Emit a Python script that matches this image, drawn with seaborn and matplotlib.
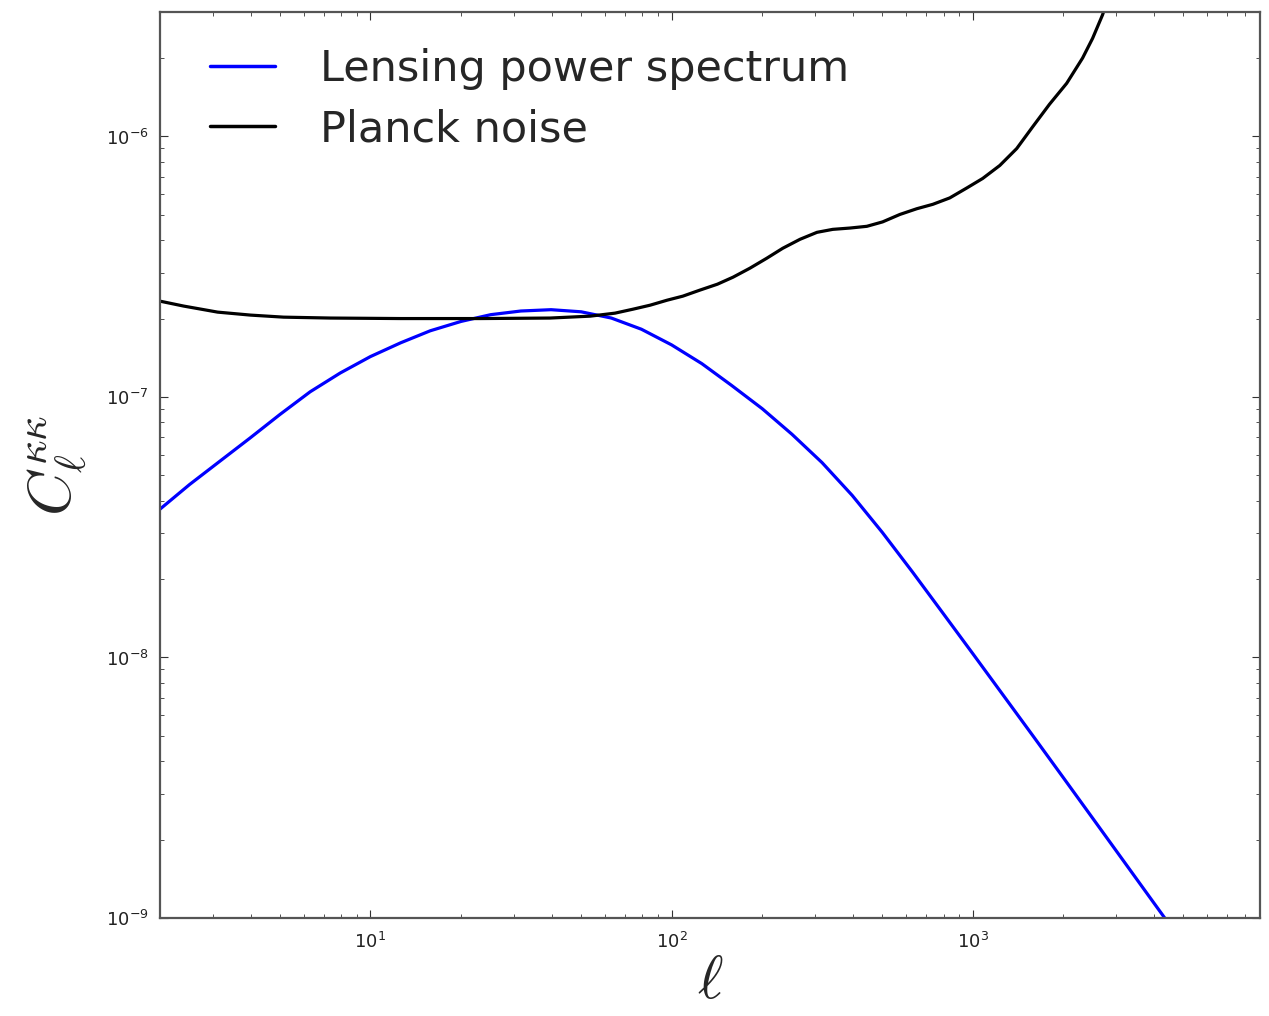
import numpy as np
import pandas as pd
import matplotlib
matplotlib.use("Agg")
import matplotlib.pyplot as plt
from matplotlib.ticker import NullFormatter
import seaborn as sns

# Lensing convergence power spectrum C_ell^{kappa kappa}
lens_ell = [2.0, 2.51, 3.16, 3.98, 5.01, 6.31, 7.94, 10.0, 12.6, 15.8, 20.0, 25.1,
            31.6, 39.8, 50.1, 63.1, 79.4, 100, 126, 158, 200, 251, 316, 398, 501,
            631, 794, 1000, 1259, 1585, 1995, 2512, 3162, 3981, 5012]
lens_cl = [3.707e-8, 4.613e-8, 5.662e-8, 6.950e-8, 8.570e-8, 1.047e-7, 1.236e-7,
           1.429e-7, 1.614e-7, 1.795e-7, 1.950e-7, 2.070e-7, 2.138e-7, 2.163e-7,
           2.123e-7, 2.009e-7, 1.820e-7, 1.585e-7, 1.343e-7, 1.109e-7, 9.016e-8,
           7.194e-8, 5.598e-8, 4.188e-8, 3.020e-8, 2.128e-8, 1.486e-8, 1.035e-8,
           7.194e-9, 5.000e-9, 3.467e-9, 2.399e-9, 1.660e-9, 1.148e-9, 7.943e-10]

# Planck reconstruction noise N_ell^{kappa kappa}
noise_ell = [2.0, 2.4, 3.11, 4.0, 5.15, 7.37, 12.6, 23.2, 39.5, 53.7, 64.9, 74.5,
             84.9, 96.6, 109, 124, 142, 160, 182, 207, 234, 267, 304, 343, 391,
             445, 502, 573, 652, 737, 839, 955, 1079, 1230, 1400, 1582, 1799,
             2051, 2316, 2500, 2698, 2846]
noise_cl = [2.333e-7, 2.233e-7, 2.117e-7, 2.062e-7, 2.025e-7, 2.009e-7, 2.000e-7,
            2.000e-7, 2.009e-7, 2.043e-7, 2.098e-7, 2.173e-7, 2.251e-7, 2.352e-7,
            2.438e-7, 2.570e-7, 2.710e-7, 2.883e-7, 3.121e-7, 3.408e-7, 3.723e-7,
            4.030e-7, 4.286e-7, 4.400e-7, 4.451e-7, 4.52e-7, 4.70e-7, 5.02e-7,
            5.28e-7, 5.49e-7, 5.81e-7, 6.34e-7, 6.90e-7, 7.74e-7, 8.99e-7,
            1.09e-6, 1.33e-6, 1.60e-6, 2.00e-6, 2.38e-6, 2.93e-6, 3.53e-6]

series_labels = ["Lensing power spectrum", "Planck noise"]
series_colors = ["#0000ff", "#000000"]

sns.set_style("ticks")
plt.rcParams.update({
    "font.family": ["DejaVu Sans"],
    "mathtext.fontset": "cm",
    "xtick.direction": "in",
    "ytick.direction": "in",
    "xtick.top": True,
    "ytick.right": True,
    "xtick.major.size": 6,
    "ytick.major.size": 6,
    "xtick.minor.size": 3,
    "ytick.minor.size": 3,
    "xtick.color": "#333333",
    "ytick.color": "#333333",
    "xtick.labelcolor": "#222222",
    "ytick.labelcolor": "#222222",
    "axes.edgecolor": "#555555",
    "axes.linewidth": 1.6,
})

lens_df = pd.DataFrame({"ell": lens_ell, "cl": lens_cl})
noise_df = pd.DataFrame({"ell": noise_ell, "cl": noise_cl})

fig = plt.figure(figsize=(12.69, 10.16), dpi=100)
ax = fig.add_axes([0.126, 0.0965, 0.867, 0.8915])

sns.lineplot(data=lens_df, x="ell", y="cl", color=series_colors[0], lw=2.3,
             label=series_labels[0], estimator=None, sort=False, ax=ax)
sns.lineplot(data=noise_df, x="ell", y="cl", color=series_colors[1], lw=2.3,
             label=series_labels[1], estimator=None, sort=False, ax=ax)

ax.set_xscale("log")
ax.set_yscale("log")
ax.set_xlim(2, 9000)
ax.set_ylim(1e-9, 3e-6)
ax.xaxis.set_minor_formatter(NullFormatter())
ax.yaxis.set_minor_formatter(NullFormatter())

ax.tick_params(axis="both", which="major", labelsize=13)
ax.tick_params(axis="x", which="major", pad=10)
ax.tick_params(axis="y", which="major", pad=8)
ax.tick_params(axis="both", which="both", top=True, right=True)

ax.set_xlabel(r"$\ell$", fontsize=44, labelpad=0)
ax.set_ylabel(r"$C_\ell^{\kappa\kappa}$", fontsize=44, labelpad=12)

leg = ax.legend(loc="upper left", bbox_to_anchor=(0.030, 0.979),
                borderaxespad=0, frameon=False, fontsize=31,
                handlelength=1.5, handletextpad=1.05, labelspacing=0.42)
for line in leg.get_lines():
    line.set_linewidth(2.5)

fig.savefig("out.png", dpi=100)
